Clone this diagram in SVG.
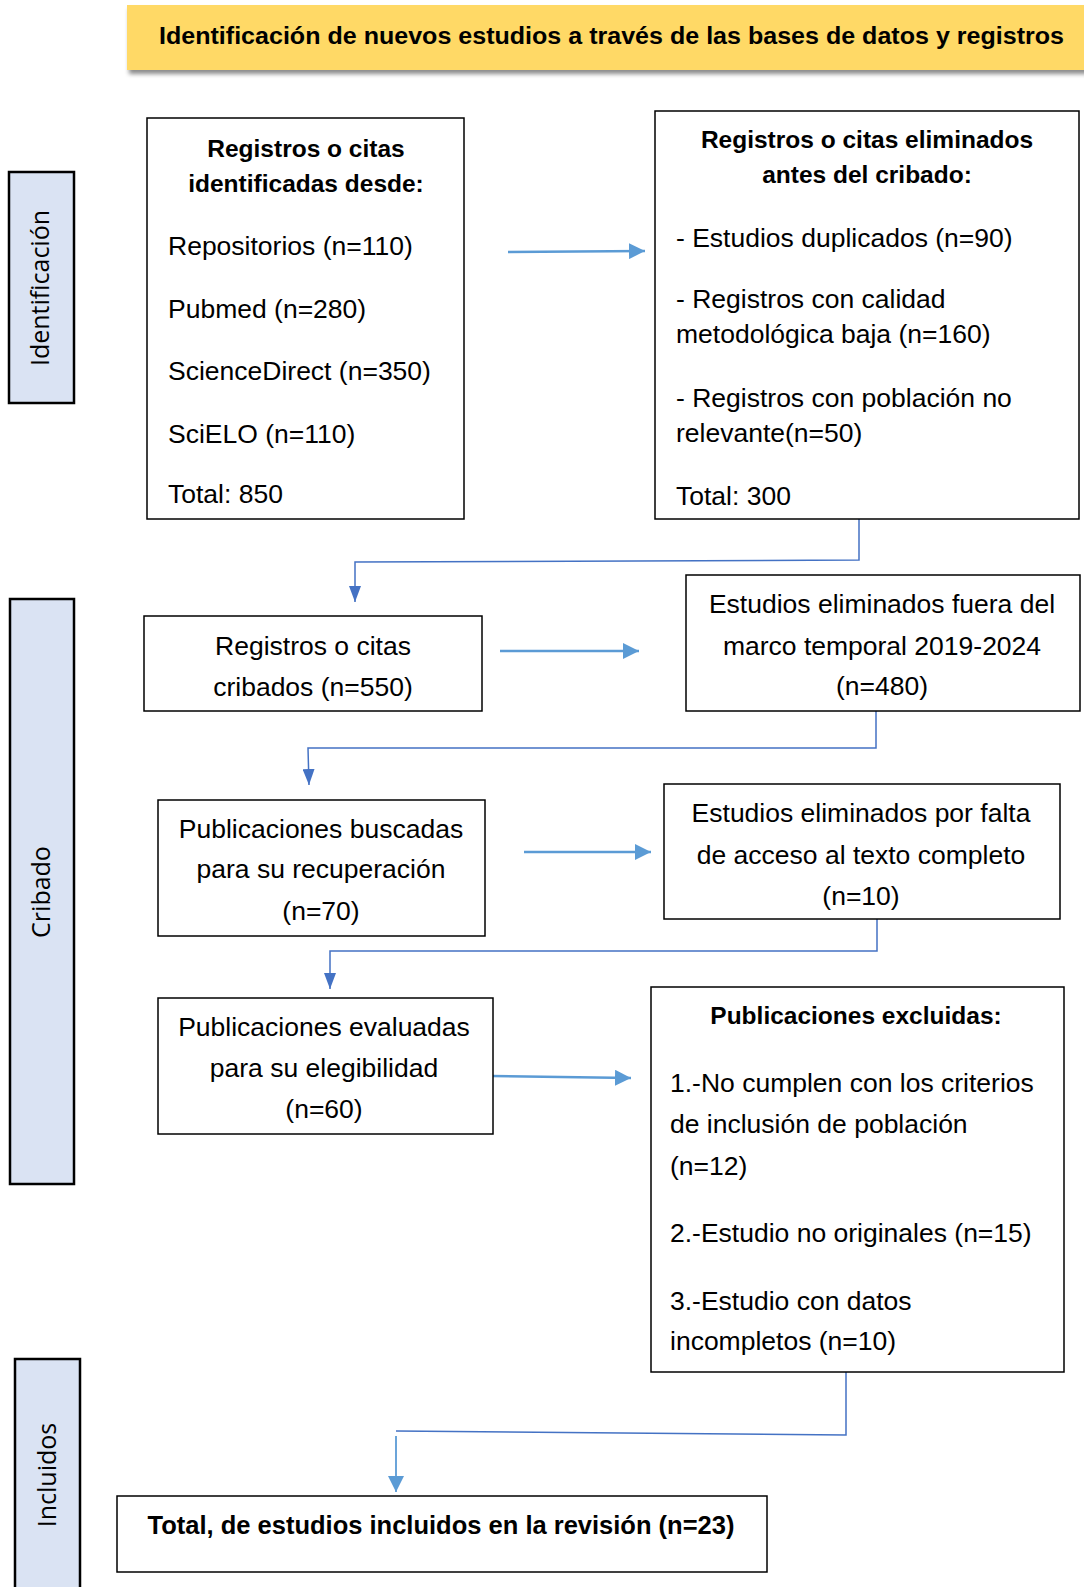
<svg xmlns="http://www.w3.org/2000/svg" width="1084" height="1587" viewBox="0 0 1084 1587">
<style>
.box{fill:#fff;stroke:#000;stroke-width:1.5}
.side{fill:#DAE3F3;stroke:#000;stroke-width:2.5}
.t{font-family:"Liberation Sans",Arial,sans-serif;font-size:26.5px;fill:#000}
.b{font-family:"Liberation Sans",Arial,sans-serif;font-size:24.5px;font-weight:bold;fill:#000}
.c{text-anchor:middle}
.s{font-family:"Open Sans","Noto Sans",sans-serif;font-size:25px;fill:#000;text-anchor:middle}
.la{stroke:#5B9BD5;stroke-width:2.5;fill:none}
.da{stroke:#4472C4;stroke-width:1.5;fill:none}
</style>
<defs>
<marker id="ahl" viewBox="0 0 16 16" refX="16" refY="8" markerWidth="16" markerHeight="16" markerUnits="userSpaceOnUse" orient="auto"><path d="M0,0 L16,8 L0,16 z" fill="#5B9BD5"/></marker>
<marker id="ahd" viewBox="0 0 16 12" refX="16" refY="6" markerWidth="16" markerHeight="12" markerUnits="userSpaceOnUse" orient="auto"><path d="M0,0 L16,6 L0,12 z" fill="#4472C4"/></marker>
<filter id="sh" x="-5%" y="-20%" width="110%" height="160%"><feDropShadow dx="2" dy="4" stdDeviation="2" flood-color="#000" flood-opacity="0.45"/></filter>
</defs>

<g id="header">
<rect x="127" y="5" width="962" height="65" fill="#FFD966" filter="url(#sh)"/>
<text class="b" x="159" y="44" style="font-size:23px" textLength="905" lengthAdjust="spacingAndGlyphs">Identificación de nuevos estudios a través de las bases de datos y registros</text>
</g>

<g id="lbl-identificacion">
<rect class="side" x="9" y="172" width="65" height="231"/>
<text class="s" transform="translate(49,288) rotate(-90)">Identificación</text>
</g>
<g id="lbl-cribado">
<rect class="side" x="10" y="599" width="64" height="585"/>
<text class="s" transform="translate(50,892) rotate(-90)">Cribado</text>
</g>
<g id="lbl-incluidos">
<rect class="side" x="15" y="1359" width="65" height="240"/>
<text class="s" transform="translate(56,1475) rotate(-90)">Incluidos</text>
</g>

<g id="connectors">
<line class="la" x1="508" y1="252" x2="645" y2="251" marker-end="url(#ahl)"/>
<polyline class="da" points="859,513 859,560 355,562 355,602" marker-end="url(#ahd)"/>
<line class="la" x1="500" y1="651" x2="639" y2="651" marker-end="url(#ahl)"/>
<polyline class="da" points="876,711 876,748 308,748 309,785" marker-end="url(#ahd)"/>
<line class="la" x1="524" y1="852" x2="651" y2="852" marker-end="url(#ahl)"/>
<polyline class="da" points="877,919 877,951 330,951 330,989" marker-end="url(#ahd)"/>
<line class="la" x1="492" y1="1076" x2="631" y2="1078" marker-end="url(#ahl)"/>
<polyline class="da" points="846,1372 846,1435 396,1431"/>
<line class="la" style="stroke-width:1.8" x1="396" y1="1436" x2="396" y2="1492" marker-end="url(#ahl)"/>
</g>

<g id="n-identificadas">
<rect class="box" x="147" y="118" width="317" height="401"/>
<text class="b c" x="306" y="157">Registros o citas</text>
<text class="b c" x="306" y="192">identificadas desde:</text>
<text class="t" x="168" y="255">Repositorios (n=110)</text>
<text class="t" x="168" y="318">Pubmed (n=280)</text>
<text class="t" x="168" y="380">ScienceDirect (n=350)</text>
<text class="t" x="168" y="443">SciELO (n=110)</text>
<text class="t" x="168" y="503">Total: 850</text>
</g>

<g id="n-eliminados">
<rect class="box" x="655" y="111" width="424" height="408"/>
<text class="b c" x="867" y="148">Registros o citas eliminados</text>
<text class="b c" x="867" y="183">antes del cribado:</text>
<text class="t" x="676" y="247">- Estudios duplicados (n=90)</text>
<text class="t" x="676" y="308">- Registros con calidad</text>
<text class="t" x="676" y="343">metodológica baja (n=160)</text>
<text class="t" x="676" y="407">- Registros con población no</text>
<text class="t" x="676" y="442">relevante(n=50)</text>
<text class="t" x="676" y="505">Total: 300</text>
</g>

<g id="n-cribados">
<rect class="box" x="144" y="616" width="338" height="95"/>
<text class="t c" x="313" y="655">Registros o citas</text>
<text class="t c" x="313" y="696">cribados (n=550)</text>
</g>

<g id="n-fuera-marco">
<rect class="box" x="686" y="575" width="394" height="136"/>
<text class="t c" x="882" y="613">Estudios eliminados fuera del</text>
<text class="t c" x="882" y="655">marco temporal 2019-2024</text>
<text class="t c" x="882" y="695">(n=480)</text>
</g>

<g id="n-buscadas">
<rect class="box" x="158" y="800" width="327" height="136"/>
<text class="t c" x="321" y="838">Publicaciones buscadas</text>
<text class="t c" x="321" y="878">para su recuperación</text>
<text class="t c" x="321" y="920">(n=70)</text>
</g>

<g id="n-sin-acceso">
<rect class="box" x="664" y="784" width="396" height="135"/>
<text class="t c" x="861" y="822">Estudios eliminados por falta</text>
<text class="t c" x="861" y="864">de acceso al texto completo</text>
<text class="t c" x="861" y="905">(n=10)</text>
</g>

<g id="n-evaluadas">
<rect class="box" x="158" y="998" width="335" height="136"/>
<text class="t c" x="324" y="1036">Publicaciones evaluadas</text>
<text class="t c" x="324" y="1077">para su elegibilidad</text>
<text class="t c" x="324" y="1118">(n=60)</text>
</g>

<g id="n-excluidas">
<rect class="box" x="651" y="987" width="413" height="385"/>
<text class="b c" x="856" y="1024">Publicaciones excluidas:</text>
<text class="t" x="670" y="1092">1.-No cumplen con los criterios</text>
<text class="t" x="670" y="1133">de inclusión de población</text>
<text class="t" x="670" y="1175">(n=12)</text>
<text class="t" x="670" y="1242">2.-Estudio no originales (n=15)</text>
<text class="t" x="670" y="1310">3.-Estudio con datos</text>
<text class="t" x="670" y="1350">incompletos (n=10)</text>
</g>

<g id="n-incluidos">
<rect class="box" x="117" y="1496" width="650" height="76"/>
<text class="b c" x="441" y="1534" style="font-size:25.5px">Total, de estudios incluidos en la revisión (n=23)</text>
</g>
</svg>
